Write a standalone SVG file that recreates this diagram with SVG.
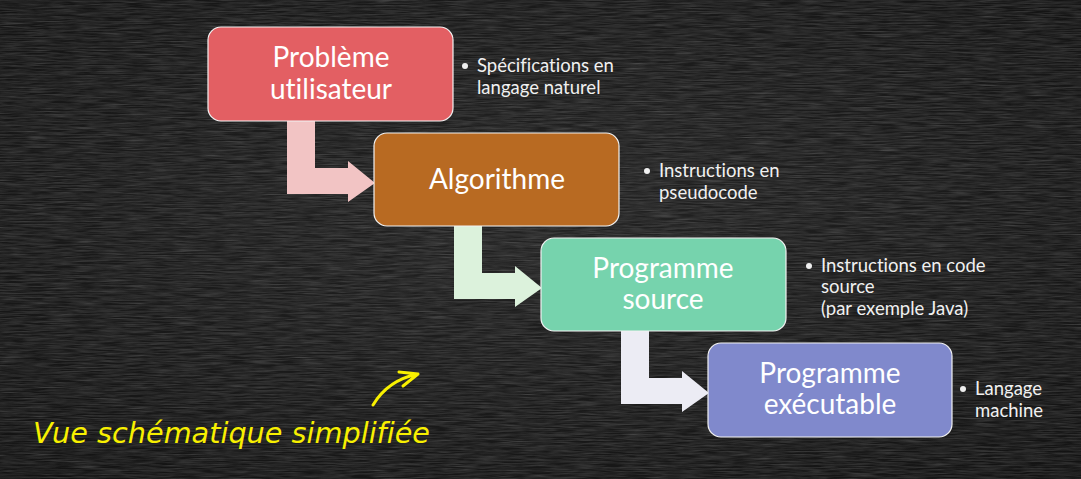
<svg xmlns="http://www.w3.org/2000/svg" width="1081" height="479" viewBox="0 0 1081 479">
<defs>
<filter id="chalk" x="0" y="0" width="100%" height="100%">
<feTurbulence type="fractalNoise" baseFrequency="0.04 0.7" numOctaves="3" seed="4" result="n"/>
<feColorMatrix in="n" type="matrix" values="0 0 0 0 1  0 0 0 0 1  0 0 0 0 1  0.5 0.5 0.5 0 -0.55" result="w"/>
<feComposite in="w" in2="SourceGraphic" operator="in"/>
</filter>
<radialGradient id="bg" cx="0.5" cy="0.45" r="0.75">
<stop offset="0" stop-color="#232323"/>
<stop offset="1" stop-color="#121212"/>
</radialGradient>
</defs>
<style>
text{font-variant-ligatures:none}
.box{stroke:#f2f2f2;stroke-width:1.2}
.t{font-family:Lato,"Open Sans",sans-serif;font-size:28px;fill:#ffffff;text-anchor:middle}
.s{font-family:Lato,"Open Sans",sans-serif;font-size:18.5px;fill:#f0f0f0}
.dot{fill:#f0f0f0}
.hand{font-family:"DejaVu Sans",sans-serif;font-style:oblique;font-size:29px;fill:#f8f000}
</style>
<rect width="1081" height="479" fill="url(#bg)"/>
<rect width="1081" height="479" fill="#000" filter="url(#chalk)" opacity="0.3"/>
<g id="connectors">
<path d="M287,121 H315 V168 H348 V161 L375,183 L348,202 V194 H287 Z" fill="#f2c4c4"/>
<path d="M454,226 H482 V273 H515 V266 L542,288 L515,307 V299 H454 Z" fill="#dcf2dc"/>
<path d="M621,331 H649 V378 H682 V371 L709,393 L682,412 V404 H621 Z" fill="#ececf4"/>
</g>
<g id="n1">
<rect class="box" x="208" y="27" width="245" height="94" rx="13" fill="#e35f63"/>
<text class="t" x="331" y="67">Problème</text>
<text class="t" x="331" y="99">utilisateur</text>
<circle class="dot" cx="465" cy="66" r="3"/>
<text class="s" x="477" y="72">Spécifications en</text>
<text class="s" x="477" y="94">langage naturel</text>
</g>
<g id="n2">
<rect class="box" x="374" y="133" width="245" height="93" rx="13" fill="#b86a22"/>
<text class="t" x="497" y="189">Algorithme</text>
<circle class="dot" cx="647" cy="171" r="3"/>
<text class="s" x="659" y="177">Instructions en</text>
<text class="s" x="659" y="199">pseudocode</text>
</g>
<g id="n3">
<rect class="box" x="541" y="238" width="245" height="93" rx="13" fill="#76d3ad"/>
<text class="t" x="663" y="278">Programme</text>
<text class="t" x="663" y="309">source</text>
<circle class="dot" cx="809" cy="266" r="3"/>
<text class="s" x="821" y="272">Instructions en code</text>
<text class="s" x="821" y="293">source</text>
<text class="s" x="821" y="315">(par exemple Java)</text>
</g>
<g id="n4">
<rect class="box" x="708" y="343" width="244" height="94" rx="13" fill="#8089cc"/>
<text class="t" x="830" y="383">Programme</text>
<text class="t" x="830" y="414">exécutable</text>
<circle class="dot" cx="963" cy="389" r="3"/>
<text class="s" x="975" y="395">Langage</text>
<text class="s" x="975" y="417">machine</text>
</g>
<g id="note">
<text class="hand" x="33" y="443" textLength="397" lengthAdjust="spacingAndGlyphs">Vue schématique simplifiée</text>
<path d="M373,405 Q388,380 418,374 M399,372 L418,374 L403,386" fill="none" stroke="#f8f000" stroke-width="3" stroke-linecap="round" stroke-linejoin="round"/>
</g>
</svg>
